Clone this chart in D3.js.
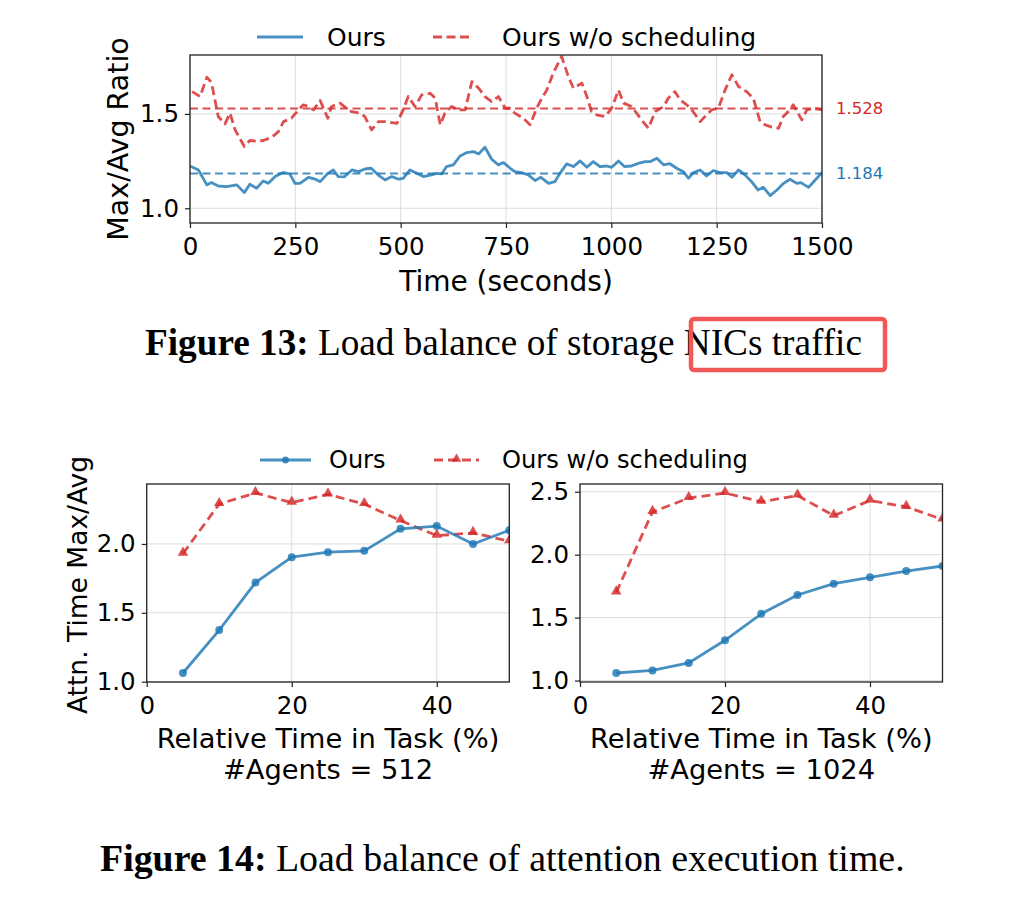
<!DOCTYPE html>
<html><head><meta charset="utf-8">
<script src="https://cdn.jsdelivr.net/npm/d3@7/dist/d3.min.js"></script>
<style>
body{margin:0;background:#fff}
svg{display:block}
text{font-family:"DejaVu Sans",sans-serif}
</style>
</head><body>
<svg id="c" width="1036" height="918"></svg>
<script>
// ---------- Figure 13 data ----------
const oursTime = [
0,20,40,51,67,87,111,129,142,158,
174,186,202,221,237,249,261,281,297,309,
327,340,352,366,384,400,415,430,447,463,
479,495,506,522,538,554,570,586,597,609,
625,641,657,673,685,700,716,732,744,760,
771,787,803,819,833,851,866,878,894,910,
926,942,957,973,989,1001,1017,1031,1048,1064,
1080,1092,1108,1124,1139,1155,1171,1183,1195,1211,
1226,1242,1258,1274,1286,1302,1317,1333,1348,1361,
1377,1393,1409,1424,1440,1450,1468,1484,1500];
const oursRatio = [
1.224,1.203,1.124,1.136,1.118,1.115,1.124,1.083,1.127,1.106,
1.145,1.132,1.168,1.189,1.182,1.132,1.132,1.164,1.155,1.141,
1.185,1.203,1.168,1.166,1.203,1.194,1.208,1.212,1.176,1.150,
1.168,1.154,1.159,1.203,1.185,1.168,1.176,1.185,1.182,1.221,
1.230,1.277,1.295,1.300,1.288,1.323,1.260,1.230,1.242,1.212,
1.194,1.189,1.177,1.147,1.164,1.132,1.141,1.185,1.235,1.221,
1.251,1.217,1.247,1.221,1.224,1.217,1.251,1.221,1.224,1.238,
1.247,1.247,1.265,1.230,1.236,1.212,1.194,1.159,1.189,1.203,
1.171,1.200,1.189,1.189,1.164,1.203,1.177,1.141,1.097,1.111,
1.067,1.097,1.132,1.154,1.132,1.136,1.111,1.150,1.189];
const woTime = [
5,24,40,51,67,83,95,107,129,142,
158,174,194,210,222,241,257,269,281,293,
309,327,336,356,376,
384,404,415,431,447,463,491,506,518,534,
550,570,582,594,605,621,637,653,669,685,
700,716,732,748,760,
771,791,807,823,835,847,862,882,898,910,
930,942,953,965,985,1001,1017,1029,1048,1072,
1088,1104,1124,1135,
1151,1163,1179,1191,1211,1226,1238,1254,1270,1286,
1302,1321,1337,1353,1365,1381,1397,1408,1420,1432,
1452,1464,1480,1500];
const woRatio = [
1.618,1.592,1.694,1.666,1.486,1.447,1.504,1.415,1.327,1.359,
1.355,1.359,1.376,1.406,1.459,1.477,1.521,1.548,1.539,1.521,
1.571,1.477,1.539,1.557,1.521,
1.512,1.504,1.486,1.415,1.459,1.459,1.450,1.521,1.592,1.539,
1.601,1.609,1.583,1.442,1.504,1.539,1.521,1.521,1.671,1.636,
1.592,1.565,1.592,1.530,1.530,
1.504,1.477,1.442,1.530,1.583,1.627,1.716,1.804,1.698,1.636,
1.663,1.592,1.512,1.495,1.486,1.530,1.627,1.557,1.539,1.468,
1.424,1.512,1.539,1.583,
1.618,1.575,1.548,1.521,1.459,1.495,1.521,1.530,1.627,1.707,
1.645,1.618,1.583,1.459,1.442,1.430,1.424,1.486,1.512,1.548,
1.468,1.521,1.530,1.521];
const oursMean = 1.184;
const woMean = 1.528;
const timeTicks = [0,250,500,750,1000,1250,1500];
const ratioTicks = [1.0,1.5];
const ratioDomain = [0.922,1.812];

// ---------- Figure 14 data ----------
const taskPct = [5,10,15,20,25,30,35,40,45,50];
const ours512 = [1.063,1.375,1.72,1.904,1.94,1.95,2.11,2.13,2.0,2.10];
const wo512   = [1.93,2.29,2.37,2.30,2.36,2.29,2.17,2.06,2.08,2.02];
const ours1024 = [1.06,1.08,1.14,1.32,1.53,1.68,1.77,1.82,1.87,1.91];
const wo1024   = [1.70,2.34,2.45,2.49,2.42,2.47,2.31,2.43,2.38,2.28];
const pctTicks = [0,20,40];
const ticks512 = [1.0,1.5,2.0];
const ticks1024 = [1.0,1.5,2.0,2.5];
const seriesNames = ["Ours","Ours w/o scheduling"];
const panelTitles = ["#Agents = 512","#Agents = 1024"];

// ---------- styles ----------
const BLUE = "#1f77b4", RED = "#d62728", OP = 0.82;
const GRID = "#dcdcdc";
const TICKFS = 24.5;

const svg = d3.select("#c");
const defs = svg.append("defs");
let clipId = 0;

function drawFrame(g, x, y, xt, yt, fx, fy, padX, padY) {
  const [x0,x1] = x.range(), [y0,y1] = y.range();
  const grid = g.append("g");
  grid.selectAll("line.vx").data(xt).join("line")
    .attr("x1",d=>x(d)).attr("x2",d=>x(d)).attr("y1",y1).attr("y2",y0)
    .attr("stroke",GRID).attr("stroke-width",1);
  grid.selectAll("line.hy").data(yt).join("line")
    .attr("x1",x0).attr("x2",x1).attr("y1",d=>y(d)).attr("y2",d=>y(d))
    .attr("stroke",GRID).attr("stroke-width",1);
  const ax = g.append("g").attr("transform",`translate(0,${y0})`)
    .call(d3.axisBottom(x).tickValues(xt).tickFormat(fx).tickSize(5).tickPadding(padX));
  const ay = g.append("g").attr("transform",`translate(${x0},0)`)
    .call(d3.axisLeft(y).tickValues(yt).tickFormat(fy).tickSize(5).tickPadding(padY));
  [ax,ay].forEach(a=>{
    a.select(".domain").remove();
    a.selectAll("line").attr("stroke","#222").attr("stroke-width",1.2);
    a.selectAll("text").attr("font-size",TICKFS).attr("font-family","DejaVu Sans").attr("fill","#000");
  });
  const id = "clip"+(clipId++);
  defs.append("clipPath").attr("id",id).append("rect")
    .attr("x",x0).attr("y",y1).attr("width",x1-x0).attr("height",y0-y1);
  return id;
}
function border(g, x, y) {
  const [x0,x1] = x.range(), [y0,y1] = y.range();
  g.append("rect").attr("x",x0).attr("y",y1).attr("width",x1-x0).attr("height",y0-y1)
    .attr("fill","none").attr("stroke","#222").attr("stroke-width",1.3);
}

// ---------- Figure 13 ----------
{
  const g = svg.append("g");
  const x = d3.scaleLinear().domain([0,1500]).range([190,822]);
  const y = d3.scaleLinear().domain(ratioDomain).range([223,55]);
  const cid = drawFrame(g,x,y,timeTicks,ratioTicks,d3.format("d"),d3.format(".1f"),10,6);
  const pg = g.append("g").attr("clip-path",`url(#${cid})`);
  const line = d3.line().x(d=>x(d[0])).y(d=>y(d[1]));
  pg.append("path").datum(d3.zip(woTime,woRatio)).attr("d",line)
    .attr("fill","none").attr("stroke",RED).attr("stroke-opacity",OP).attr("stroke-width",2.8)
    .attr("stroke-dasharray","9,4.5").attr("stroke-linejoin","round");
  pg.append("path").datum(d3.zip(oursTime,oursRatio)).attr("d",line)
    .attr("fill","none").attr("stroke",BLUE).attr("stroke-opacity",OP).attr("stroke-width",2.8)
    .attr("stroke-linejoin","round");
  [[woMean,RED],[oursMean,BLUE]].forEach(([m,c])=>{
    pg.append("line").attr("x1",190).attr("x2",822).attr("y1",y(m)).attr("y2",y(m))
      .attr("stroke",c).attr("stroke-opacity",OP).attr("stroke-width",2)
      .attr("stroke-dasharray","8,4.5");
    g.append("text").attr("x",836).attr("y",y(m)).attr("dy","0.35em")
      .attr("font-size",16.5).attr("fill",c).text(d3.format(".3f")(m));
  });
  border(g,x,y);
  g.append("text").attr("x",506).attr("y",281).attr("dy","0.35em").attr("text-anchor","middle")
    .attr("font-size",28).text("Time (seconds)");
  g.append("text").attr("transform","translate(118,139) rotate(-90)").attr("dy","0.35em")
    .attr("text-anchor","middle").attr("font-size",28.5).text("Max/Avg Ratio");
  // legend
  const lg = g.append("g");
  lg.append("line").attr("x1",257).attr("x2",303).attr("y1",37).attr("y2",37)
    .attr("stroke",BLUE).attr("stroke-opacity",OP).attr("stroke-width",2.8);
  lg.append("text").attr("x",327).attr("y",37).attr("dy","0.35em").attr("font-size",25).text(seriesNames[0]);
  lg.append("line").attr("x1",433).attr("x2",472).attr("y1",37).attr("y2",37)
    .attr("stroke",RED).attr("stroke-opacity",OP).attr("stroke-width",2.8).attr("stroke-dasharray","9,4.5");
  lg.append("text").attr("x",502).attr("y",37).attr("dy","0.35em").attr("font-size",25).text(seriesNames[1]);
}

// ---------- Figure 14 ----------
function padDomain(arrs){
  const all = arrs.flat();
  const lo = d3.min(all), hi = d3.max(all), p = (hi-lo)*0.05;
  return [lo-p, hi+p];
}
const panels = [
  {x0:146.7,x1:509.3,ours:ours512,wo:wo512,ticks:ticks512,title:panelTitles[0]},
  {x0:580,x1:942.5,ours:ours1024,wo:wo1024,ticks:ticks1024,title:panelTitles[1]}
];
panels.forEach(p=>{
  const g = svg.append("g");
  const x = d3.scaleLinear().domain([0,50]).range([p.x0,p.x1]);
  const y = d3.scaleLinear().domain(padDomain([p.ours,p.wo])).range([682,484]);
  const cid = drawFrame(g,x,y,pctTicks,p.ticks,d3.format("d"),d3.format(".1f"),10,6);
  const pg = g.append("g").attr("clip-path",`url(#${cid})`);
  const line = d3.line().x(d=>x(d[0])).y(d=>y(d[1]));
  const woPts = d3.zip(taskPct,p.wo), oursPts = d3.zip(taskPct,p.ours);
  pg.append("path").datum(woPts).attr("d",line).attr("fill","none")
    .attr("stroke",RED).attr("stroke-opacity",OP).attr("stroke-width",2.8).attr("stroke-dasharray","9,5");
  pg.selectAll("path.tri").data(woPts).join("path")
    .attr("transform",d=>`translate(${x(d[0])},${y(d[1])-1})`)
    .attr("d",d3.symbol(d3.symbolTriangle,48)).attr("fill",RED).attr("fill-opacity",OP);
  pg.append("path").datum(oursPts).attr("d",line).attr("fill","none")
    .attr("stroke",BLUE).attr("stroke-opacity",OP).attr("stroke-width",2.8);
  pg.selectAll("circle").data(oursPts).join("circle")
    .attr("cx",d=>x(d[0])).attr("cy",d=>y(d[1])).attr("r",4)
    .attr("fill",BLUE).attr("fill-opacity",OP);
  border(g,x,y);
  const cx = (p.x0+p.x1)/2;
  g.append("text").attr("x",cx).attr("y",738).attr("dy","0.35em").attr("text-anchor","middle")
    .attr("font-size",27.3).text("Relative Time in Task (%)");
  g.append("text").attr("x",cx).attr("y",769).attr("dy","0.35em").attr("text-anchor","middle")
    .attr("font-size",27.3).text(p.title);
});
svg.append("text").attr("transform","translate(78,585) rotate(-90)").attr("dy","0.35em")
  .attr("text-anchor","middle").attr("font-size",26.5).text("Attn. Time Max/Avg");
{
  const lg = svg.append("g");
  lg.append("line").attr("x1",260).attr("x2",311).attr("y1",460).attr("y2",460)
    .attr("stroke",BLUE).attr("stroke-opacity",OP).attr("stroke-width",2.8);
  lg.append("circle").attr("cx",285.5).attr("cy",460).attr("r",3.5).attr("fill",BLUE).attr("fill-opacity",OP);
  lg.append("text").attr("x",329).attr("y",460).attr("dy","0.35em").attr("font-size",24).text(seriesNames[0]);
  lg.append("line").attr("x1",434).attr("x2",479).attr("y1",460).attr("y2",460)
    .attr("stroke",RED).attr("stroke-opacity",OP).attr("stroke-width",2.8).attr("stroke-dasharray","9,5");
  lg.append("path").attr("transform","translate(456.5,459)").attr("d",d3.symbol(d3.symbolTriangle,40))
    .attr("fill",RED).attr("fill-opacity",OP);
  lg.append("text").attr("x",502).attr("y",460).attr("dy","0.35em").attr("font-size",24.2).text(seriesNames[1]);
}

// ---------- captions ----------
function caption(x0, x1, baseline, bold, rest){
  const t = svg.append("text").attr("x",x0).attr("y",baseline)
    .attr("font-size",30)
    .style("font-family","'Liberation Serif','DejaVu Serif',serif");
  t.append("tspan").attr("font-weight","bold").text(bold);
  t.append("tspan").text(" "+rest);
  const w = t.node().getComputedTextLength();
  t.attr("font-size",30*(x1-x0)/w);
  return t;
}
caption(145,862,355,"Figure 13:","Load balance of storage NICs traffic");
caption(100,905,871,"Figure 14:","Load balance of attention execution time.");
svg.append("rect").attr("x",691).attr("y",319).attr("width",194).attr("height",51).attr("rx",3)
  .attr("fill","none").attr("stroke","#f35757").attr("stroke-width",4.5);
</script>
</body></html>
